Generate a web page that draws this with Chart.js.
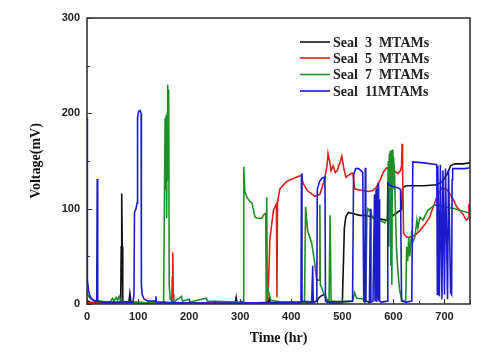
<!DOCTYPE html>
<html><head><meta charset="utf-8">
<script src="https://cdn.jsdelivr.net/npm/chart.js@4"></script>
<style>html,body{margin:0;padding:0;background:#fff;}canvas{display:block}</style>
</head><body>
<canvas id="c" width="496" height="356"></canvas>
<script>
const seriesLabels = ['Seal  3  MTAMs', 'Seal  5  MTAMs', 'Seal  7  MTAMs', 'Seal  11MTAMs'];

const seal3Time = [0, 5, 20, 60, 66, 67, 68, 69, 70, 82, 84, 86, 100, 200, 290, 292, 294, 300, 355, 357, 359, 440, 450, 455, 460, 465, 470, 475, 500, 502, 504, 507, 512, 520, 534, 545, 560, 575, 587, 600, 610, 616, 618, 625, 660, 685, 695, 705, 712, 720, 735, 750];
const seal3Volt = [4, 2, 1, 1, 2, 60, 116, 60, 2, 2, 11, 2, 1, 1, 1, 7, 1, 1, 1, 6, 1, 1, 3, 7, 9, 10, 4, 1, 1, 40, 80, 92, 96, 95, 93, 93, 91, 89, 88, 93, 97, 99, 122, 124, 124, 125, 128, 136, 145, 147, 147, 148];

const seal5Time = [0, 100, 166, 167, 168, 169, 170, 200, 300, 352, 354, 356, 358, 362, 365, 369, 371, 372, 373, 374, 378, 390, 397, 410, 420, 423, 430, 436, 446, 456, 462, 466, 470, 472, 475, 478, 482, 486, 490, 495, 499, 503, 507, 512, 518, 521, 524, 530, 540, 552, 560, 566, 574, 580, 587, 595, 603, 609, 614, 616, 617, 618, 620, 626, 632, 642, 652, 662, 671, 680, 685, 695, 705, 715, 724, 735, 743, 747, 748, 749, 750];
const seal5Volt = [1, 1, 1, 28, 54, 10, 1, 1, 1, 1, 5, 30, 67, 85, 98, 103, 105, 7, 108, 110, 121, 128, 130, 133, 135, 127, 120, 117, 113, 115, 125, 133, 145, 158, 150, 140, 145, 138, 140, 148, 155, 142, 133, 135, 137, 137, 121, 120, 119, 118, 119, 122, 130, 138, 143, 141, 139, 137, 140, 145, 168, 140, 74, 70, 70, 72, 77, 84, 91, 105, 112, 122, 120, 112, 102, 95, 88, 90, 105, 90, 88];

const seal7Time = [0, 3, 8, 20, 45, 50, 53, 57, 60, 63, 66, 80, 100, 120, 150, 153, 154, 155, 156, 157, 158, 159, 160, 161, 163, 170, 185, 187, 200, 202, 233, 236, 300, 306, 307, 309, 313, 318, 323, 329, 335, 342, 348, 350, 351, 352, 353, 356, 360, 380, 426, 428, 432, 440, 446, 449, 452, 455, 456, 457, 459, 466, 474, 476, 478, 500, 520, 524, 528, 546, 548, 550, 554, 560, 573, 583, 588, 590, 591, 592, 593, 594, 595, 596, 597, 598, 599, 600, 602, 604, 606, 608, 612, 616, 620, 624, 626, 628, 630, 632, 636, 638, 642, 646, 648, 652, 658, 667, 681, 700, 720, 745, 750];
const seal7Volt = [12, 8, 5, 3, 2, 6, 3, 7, 4, 8, 3, 2, 2, 1, 2, 195, 120, 198, 90, 200, 230, 130, 225, 20, 5, 2, 8, 3, 5, 2, 6, 3, 2, 3, 144, 118, 112, 108, 106, 91, 90, 90, 95, 95, 2, 112, 18, 12, 4, 2, 2, 102, 77, 64, 43, 28, 25, 25, 104, 20, 18, 7, 3, 93, 3, 2, 3, 12, 6, 5, 90, 100, 98, 90, 88, 85, 90, 150, 60, 158, 100, 161, 40, 150, 20, 162, 120, 155, 140, 95, 60, 40, 15, 5, 3, 2, 60, 45, 70, 50, 77, 65, 70, 88, 80, 91, 88, 98, 104, 102, 100, 96, 96];

const seal11Time = [0, 0.5, 1, 3, 6, 10, 15, 19, 20, 21, 30, 60, 90, 92, 93, 96, 98, 99, 101, 104, 106, 106.5, 108, 112, 120, 134, 135, 136, 200, 300, 419, 420, 421, 440, 442, 443, 450, 451, 455, 460, 466, 467, 470, 520, 522, 526, 532, 540, 542, 544, 545, 546, 553, 555, 556, 560, 563, 564, 566, 567, 568, 569, 570, 571, 572, 573, 576, 588, 589, 592, 600, 609, 614, 616, 625, 636, 638, 660, 685, 686, 687, 690, 692, 695, 697, 700, 702, 706, 708, 712, 714, 715, 716, 740, 750];
const seal11Volt = [195, 120, 25, 14, 8, 5, 3, 3, 131, 3, 2, 2, 2, 10, 96, 100, 106, 195, 202, 203, 200, 20, 10, 5, 3, 3, 8, 2, 1, 1, 2, 137, 3, 2, 40, 2, 3, 120, 128, 132, 133, 3, 2, 3, 135, 142, 142, 138, 3, 2, 143, 3, 2, 100, 2, 3, 115, 3, 120, 2, 122, 5, 127, 3, 110, 3, 2, 3, 127, 125, 123, 122, 120, 3, 2, 3, 149, 148, 146, 10, 145, 8, 146, 5, 140, 10, 142, 5, 140, 12, 10, 130, 142, 142, 143];

const xTickValues = [0, 100, 200, 300, 400, 500, 600, 700];
const yTickValues = [0, 100, 200, 300];

const SANS = "'Liberation Sans', Arial, sans-serif";
const SERIF = "'Liberation Serif', 'Times New Roman', serif";
const colors = ['#111111', '#e0201c', '#1f8f2a', '#1c1ccc'];

function pts(t, v) { return t.map((x, i) => ({ x: x, y: v[i] })); }

const datasets = [
  { label: seriesLabels[0], data: pts(seal3Time, seal3Volt), borderColor: colors[0], order: 3 },
  { label: seriesLabels[1], data: pts(seal5Time, seal5Volt), borderColor: colors[1], order: 2 },
  { label: seriesLabels[2], data: pts(seal7Time, seal7Volt), borderColor: colors[2], order: 1 },
  { label: seriesLabels[3], data: pts(seal11Time, seal11Volt), borderColor: colors[3], order: 0 }
].map(d => Object.assign(d, { borderWidth: 1.6, pointRadius: 0, tension: 0, fill: false }));

const frameAndLegend = {
  id: 'frameAndLegend',
  beforeDraw(chart) {
    const ctx = chart.ctx;
    ctx.save();
    ctx.fillStyle = '#fff';
    ctx.fillRect(0, 0, chart.width, chart.height);
    ctx.restore();
  },
  afterDatasetsDraw(chart) {
    const { ctx, chartArea: a, scales } = chart;
    const x = scales.x, y = scales.y;
    ctx.save();
    ctx.strokeStyle = '#333';
    ctx.lineWidth = 1;
    ctx.beginPath();
    for (let v = 0; v <= 750; v += 50) {
      const px = Math.round(x.getPixelForValue(v)) + 0.5;
      const len = v % 100 === 0 ? 5 : 3;
      ctx.moveTo(px, a.bottom); ctx.lineTo(px, a.bottom - len);
    }
    for (let v = 0; v <= 300; v += 50) {
      const py = Math.round(y.getPixelForValue(v)) + 0.5;
      const len = v % 100 === 0 ? 5 : 3;
      ctx.moveTo(a.left, py); ctx.lineTo(a.left + len, py);
    }
    ctx.stroke();
    ctx.lineWidth = 1.6;
    ctx.strokeRect(a.left, a.top, a.right - a.left, a.bottom - a.top);

    // legend
    const rows = [42, 58, 74.5, 91];
    ctx.font = 'bold 14px ' + SERIF;
    ctx.textBaseline = 'middle';
    ctx.textAlign = 'left';
    chart.data.datasets.forEach((d, i) => {
      ctx.strokeStyle = d.borderColor;
      ctx.lineWidth = 1.6;
      ctx.beginPath();
      ctx.moveTo(300, rows[i]); ctx.lineTo(330, rows[i]);
      ctx.stroke();
      ctx.fillStyle = '#222';
      ctx.fillText(d.label, 333, rows[i] + 1);
    });
    ctx.restore();
  }
};

new Chart(document.getElementById('c'), {
  type: 'line',
  data: { datasets: datasets },
  plugins: [frameAndLegend],
  options: {
    responsive: false,
    animation: false,
    events: [],
    layout: { padding: { top: 18, right: 26, left: 0, bottom: 0 } },
    plugins: { legend: { display: false }, tooltip: { enabled: false } },
    scales: {
      x: {
        type: 'linear', min: 0, max: 750,
        afterBuildTicks: s => { s.ticks = xTickValues.map(v => ({ value: v })); },
        afterFit: s => { s.height = 52; },
        grid: { display: false, drawTicks: false },
        border: { display: false },
        ticks: { color: '#222', font: { family: SANS, weight: 'bold', size: 11 }, padding: 6, maxRotation: 0, autoSkip: false },
        title: { display: true, text: 'Time (hr)', color: '#111', font: { family: SERIF, weight: 'bold', size: 14 }, padding: { top: 0, bottom: 9 } }
      },
      y: {
        type: 'linear', min: 0, max: 300,
        afterBuildTicks: s => { s.ticks = yTickValues.map(v => ({ value: v })); },
        afterFit: s => { s.width = 87; },
        grid: { display: false, drawTicks: false },
        border: { display: false },
        ticks: { color: '#222', font: { family: SANS, weight: 'bold', size: 11 }, padding: 7 },
        title: { display: true, text: 'Voltage(mV)', color: '#111', font: { family: SERIF, weight: 'bold', size: 14 }, padding: { top: 28, bottom: 0 } }
      }
    }
  }
});
</script>
</body></html>
